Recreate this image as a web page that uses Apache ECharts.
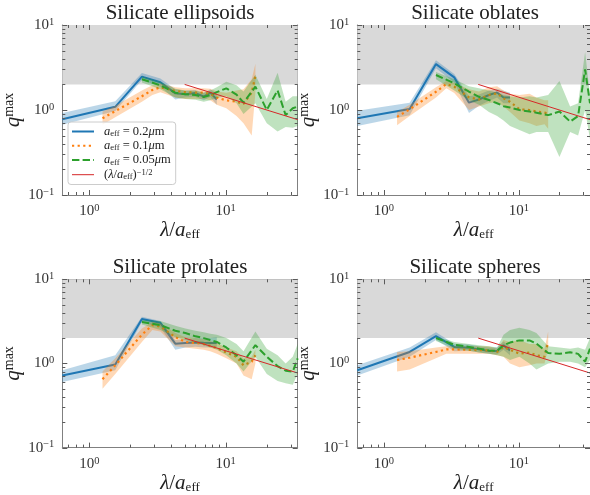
<!DOCTYPE html>
<html><head><meta charset="utf-8">
<script src="https://cdn.jsdelivr.net/npm/echarts@6/dist/echarts.min.js"></script>
<style>html,body{margin:0;padding:0;background:#fff}#c{width:590px;height:495px}</style>
</head><body><div id="c"></div>
<script>
// ---------- data ----------
const titles = ['Silicate ellipsoids', 'Silicate oblates', 'Silicate prolates', 'Silicate spheres'];
const seriesNames = ['a0.2', 'a0.1', 'a0.05', 'power'];
const xRange = [0.634, 33.7];
const yRange = [0.1, 10];
const grayBand = [2, 10];
const xMajor = [1, 10];
const xMinor = [0.7, 0.8, 0.9, 2, 3, 4, 5, 6, 7, 8, 9, 20, 30];
const yMajor = [0.1, 1, 10];
const yMinor = [0.2, 0.3, 0.4, 0.5, 0.6, 0.7, 0.8, 0.9, 2, 3, 4, 5, 6, 7, 8, 9];

const blueX = [0.634, 1.55, 2.43, 3.32, 4.27, 5.06, 6.0, 6.9, 7.7, 8.6];
const orangeX = [1.25, 1.55, 2.43, 2.9, 3.32, 4.27, 5.06, 6.0, 6.9, 7.7, 8.6, 10.1, 12, 13.5, 15.5, 16.5];
const greenX = [2.43, 3.32, 4.27, 5.06, 6.0, 6.9, 7.7, 8.6, 10.1, 12, 13.5, 16.5, 20, 24, 27.5, 31, 33.7];
const redX = [5.0, 33.7];
const redY = [2.0, 0.77];

// ellipsoids
const ellBlue    = [0.78, 1.09, 2.47, 2.12, 1.57, 1.53, 1.58, 1.44, 1.60, 1.33];
const ellBlueLo  = [0.67, 0.97, 2.25, 1.88, 1.33, 1.40, 1.42, 1.30, 1.42, 1.15];
const ellBlueHi  = [0.92, 1.27, 2.72, 2.35, 1.75, 1.68, 1.72, 1.60, 1.75, 1.55];
const ellOrange   = [0.80, 0.97, 1.45, 1.72, 1.85, 1.68, 1.62, 1.60, 1.60, 1.55, 1.40, 1.30, 1.25, 1.18, 1.60, 2.50];
const ellOrangeLo = [0.67, 0.82, 1.25, 1.50, 1.62, 1.40, 1.35, 1.35, 1.35, 1.30, 1.15, 1.05, 0.85, 0.70, 0.50, 1.60];
const ellOrangeHi = [0.96, 1.12, 1.70, 1.95, 2.05, 1.85, 1.80, 1.80, 1.80, 1.78, 1.65, 1.60, 1.70, 1.75, 2.30, 3.50];
const ellGreen   = [2.30, 1.95, 1.60, 1.53, 1.50, 1.42, 1.50, 1.62, 1.80, 1.52, 1.22, 1.88, 1.00, 1.70, 0.87, 1.05, 1.10];
const ellGreenLo = [2.10, 1.75, 1.40, 1.35, 1.32, 1.25, 1.30, 1.38, 1.45, 1.20, 0.90, 1.20, 0.70, 0.56, 0.63, 0.62, 0.65];
const ellGreenHi = [2.50, 2.15, 1.78, 1.70, 1.68, 1.60, 1.70, 1.85, 2.15, 1.95, 1.65, 2.60, 1.35, 2.75, 1.25, 1.45, 1.45];

// oblates
const oblBlue    = [0.80, 1.03, 3.47, 2.42, 1.22, 1.33, 1.50, 1.61, 1.40, 1.40];
const oblBlueLo  = [0.65, 0.87, 3.10, 2.10, 0.92, 1.12, 1.28, 1.40, 1.20, 1.20];
const oblBlueHi  = [0.98, 1.22, 3.85, 2.65, 1.45, 1.52, 1.70, 1.78, 1.68, 1.60];
const oblOrange   = [0.83, 1.02, 1.64, 2.02, 1.88, 1.41, 1.33, 1.50, 1.57, 1.37, 1.25, 1.02, 1.00, 0.96, 0.93, 0.91];
const oblOrangeLo = [0.66, 0.85, 1.40, 1.80, 1.58, 1.00, 1.10, 1.20, 1.25, 1.10, 0.95, 0.75, 0.70, 0.65, 0.68, 0.60];
const oblOrangeHi = [0.95, 1.15, 1.85, 2.20, 2.08, 1.75, 1.65, 1.85, 1.90, 1.70, 1.55, 1.50, 1.55, 1.40, 1.30, 1.30];
const oblGreen   = [2.58, 2.06, 1.64, 1.43, 1.31, 1.20, 1.11, 1.07, 1.00, 0.96, 0.93, 0.87, 0.96, 0.73, 0.85, 3.00, 1.20];
const oblGreenLo = [2.30, 1.70, 1.30, 1.15, 0.95, 0.85, 0.75, 0.65, 0.58, 0.52, 0.55, 0.55, 0.28, 0.55, 0.50, 1.00, 0.45];
const oblGreenHi = [2.80, 2.30, 1.90, 1.80, 1.70, 1.60, 1.50, 1.45, 1.40, 1.45, 1.40, 1.50, 2.20, 1.10, 1.20, 4.80, 1.50];

// prolates
const proBlue    = [0.72, 0.97, 3.38, 3.04, 1.72, 1.75, 1.78, 1.76, 1.75, 1.75];
const proBlueLo  = [0.60, 0.83, 3.10, 2.70, 1.45, 1.55, 1.58, 1.55, 1.55, 1.55];
const proBlueHi  = [0.83, 1.25, 3.60, 3.20, 1.90, 1.95, 2.00, 2.00, 2.00, 2.05];
const proOrange   = [0.65, 0.95, 2.20, 2.85, 2.75, 2.06, 1.80, 1.75, 1.70, 1.62, 1.52, 1.35, 1.20, 0.95, 1.05, 1.25];
const proOrangeLo = [0.50, 0.75, 1.80, 2.50, 2.40, 1.60, 1.55, 1.50, 1.45, 1.40, 1.30, 1.15, 1.00, 0.72, 0.65, 1.00];
const proOrangeHi = [0.80, 1.15, 2.60, 3.10, 3.00, 2.30, 2.05, 2.00, 1.95, 1.85, 1.75, 1.55, 1.40, 1.15, 1.20, 1.45];
const proGreen   = [3.10, 2.85, 2.45, 2.30, 2.10, 2.00, 1.90, 1.80, 1.55, 1.25, 1.05, 1.65, 1.20, 0.93, 0.82, 0.80, 1.15];
const proGreenLo = [2.90, 2.50, 2.05, 1.90, 1.75, 1.65, 1.55, 1.45, 1.25, 1.00, 0.80, 1.20, 0.75, 0.62, 0.58, 0.56, 0.75];
const proGreenHi = [3.30, 3.20, 2.80, 2.60, 2.45, 2.35, 2.25, 2.20, 2.00, 1.70, 1.40, 2.40, 1.50, 1.25, 1.00, 1.20, 1.70];

// spheres
const sphBlue    = [0.83, 1.37, 2.11, 1.57, 1.54, 1.47, 1.41, 1.41, 1.64, 1.43];
const sphBlueLo  = [0.72, 1.20, 1.90, 1.40, 1.42, 1.35, 1.30, 1.28, 1.45, 1.25];
const sphBlueHi  = [0.95, 1.55, 2.35, 1.72, 1.68, 1.60, 1.55, 1.55, 1.82, 1.60];
const sphOrange   = [1.10, 1.17, 1.37, 1.47, 1.47, 1.45, 1.44, 1.43, 1.37, 1.57, 1.45, 1.31, 1.35, 1.25, 1.20, 1.80];
const sphOrangeLo = [0.80, 0.85, 1.15, 1.30, 1.30, 1.30, 1.30, 1.30, 1.25, 1.20, 1.00, 0.90, 0.95, 1.00, 1.00, 1.50];
const sphOrangeHi = [1.37, 1.40, 1.55, 1.60, 1.60, 1.60, 1.60, 1.60, 1.50, 1.90, 1.80, 1.90, 1.70, 1.70, 1.50, 2.40];
const sphGreen   = [2.00, 1.67, 1.57, 1.50, 1.43, 1.41, 1.64, 1.77, 1.88, 1.88, 1.72, 1.33, 1.30, 1.36, 1.30, 1.05, 1.50];
const sphGreenLo = [1.85, 1.50, 1.42, 1.35, 1.30, 1.25, 1.20, 1.10, 1.20, 1.00, 0.85, 1.00, 1.05, 1.05, 1.00, 0.90, 1.10];
const sphGreenHi = [2.10, 1.80, 1.70, 1.65, 1.60, 1.55, 2.20, 2.50, 2.65, 2.50, 2.30, 1.60, 1.55, 1.50, 1.55, 1.45, 2.00];

const panels = [
  {blue: [ellBlue, ellBlueLo, ellBlueHi], orange: [ellOrange, ellOrangeLo, ellOrangeHi], green: [ellGreen, ellGreenLo, ellGreenHi]},
  {blue: [oblBlue, oblBlueLo, oblBlueHi], orange: [oblOrange, oblOrangeLo, oblOrangeHi], green: [oblGreen, oblGreenLo, oblGreenHi]},
  {blue: [proBlue, proBlueLo, proBlueHi], orange: [proOrange, proOrangeLo, proOrangeHi], green: [proGreen, proGreenLo, proGreenHi]},
  {blue: [sphBlue, sphBlueLo, sphBlueHi], orange: [sphOrange, sphOrangeLo, sphOrangeHi], green: [sphGreen, sphGreenLo, sphGreenHi]}
];

// ---------- style / layout ----------
const FONT = 'Liberation Serif';
const C = {blue: '#1f77b4', orange: '#ff7f0e', green: '#2ca02c', red: '#d62728'};
const SPINE = '#808080', TICK = '#5a5a5a', LABEL = '#333333';
const boxes = [[62.3, 25], [357.3, 25], [62.3, 279.3], [357.3, 279.3]];
const GW = 235.4, GH = 170;
const MAJOR_LEN = 5, MINOR_LEN = 3;

function powLabel(v) {
  const k = Math.round(Math.log10(v));
  if (Math.abs(v - Math.pow(10, k)) > 1e-6 * Math.pow(10, k)) return '';
  return '{b|10}{s|' + (k < 0 ? '\u2212' + (-k) : k) + '}';
}
const tickRich = {
  b: {fontFamily: FONT, fontSize: 15, lineHeight: 17, color: LABEL},
  s: {fontFamily: FONT, fontSize: 10.5, lineHeight: 7, verticalAlign: 'top', color: LABEL}
};
const nameRich = {
  i: {fontFamily: FONT, fontStyle: 'italic', fontSize: 21, lineHeight: 22, color: '#222'},
  t: {fontFamily: FONT, fontSize: 21, lineHeight: 22, color: '#222'},
  sub: {fontFamily: FONT, fontSize: 13, lineHeight: 8, verticalAlign: 'bottom', color: '#222'},
  sup: {fontFamily: FONT, fontSize: 14, lineHeight: 8, verticalAlign: 'top', color: '#222'}
};

const grid = [], xAxis = [], yAxis = [], series = [], title = [];

function axisSet(g, dim, pos, labels) {
  const o = {
    gridIndex: g, type: 'log', logBase: 10,
    min: dim === 'x' ? xRange[0] : yRange[0],
    max: dim === 'x' ? xRange[1] : yRange[1],
    position: pos,
    splitLine: {show: false},
    axisLine: {show: true, onZero: false, lineStyle: {color: SPINE, width: 1}},
    axisTick: {show: false},
    axisLabel: {show: !!labels, customValues: dim === 'x' ? xMajor : yMajor, formatter: powLabel, rich: tickRich, margin: 8},
    silent: true
  };
  if (labels && dim === 'x') {
    o.name = '{i|\u03bb}{t|/}{i|a}{sub|eff}';
    o.nameLocation = 'middle';
    o.nameGap = 11;
    o.nameTextStyle = {rich: nameRich};
  }
  if (labels && dim === 'y') {
    o.name = '{i|q}{sup|max}';
    o.nameLocation = 'middle';
    o.nameRotate = 90;
    o.nameGap = 32;
    o.nameTextStyle = {rich: nameRich};
  }
  return o;
}

// inward tick marks on all four sides, placed through the axes' own scales
function tickSeries(g) {
  return {
    type: 'custom', xAxisIndex: 2 * g, yAxisIndex: 2 * g, z: 20, silent: true,
    data: [[xRange[0], yRange[0]]],
    renderItem: function (params, api) {
      const kids = [];
      const ln = (x1, y1, x2, y2) => kids.push({type: 'line', shape: {x1, y1, x2, y2},
        style: {stroke: TICK, lineWidth: 1}});
      const xt = xMajor.map(v => [v, MAJOR_LEN]).concat(xMinor.map(v => [v, MINOR_LEN]));
      const yt = yMajor.map(v => [v, MAJOR_LEN]).concat(yMinor.map(v => [v, MINOR_LEN]));
      xt.forEach(([v, L]) => {
        const b = api.coord([v, yRange[0]]), t = api.coord([v, yRange[1]]);
        const x = Math.round(b[0]) + 0.5;
        ln(x, b[1], x, b[1] - L);
        ln(x, t[1], x, t[1] + L);
      });
      yt.forEach(([v, L]) => {
        const l = api.coord([xRange[0], v]), r = api.coord([xRange[1], v]);
        const y = Math.round(l[1]) + 0.5;
        ln(l[0], y, l[0] + L, y);
        ln(r[0], y, r[0] - L, y);
      });
      return {type: 'group', children: kids};
    }
  };
}

function bandSeries(g, xs, lo, hi, color, z) {
  return {
    type: 'custom', xAxisIndex: 2 * g, yAxisIndex: 2 * g, z: z, silent: true,
    data: xs.map((x, i) => [x, lo[i], hi[i]]),
    encode: {x: 0, y: [1, 2]},
    renderItem: function (params, api) {
      if (params.dataIndex !== 0) return null;
      const pts = [];
      for (let i = 0; i < xs.length; i++) pts.push(api.coord([xs[i], hi[i]]));
      for (let i = xs.length - 1; i >= 0; i--) pts.push(api.coord([xs[i], lo[i]]));
      return {type: 'polygon', shape: {points: pts}, style: {fill: color, opacity: 0.3}};
    }
  };
}
function lineSeries(g, name, xs, ys, color, width, type, z) {
  return {
    type: 'line', name: name, xAxisIndex: 2 * g, yAxisIndex: 2 * g, z: z,
    data: xs.map((x, i) => [x, ys[i]]),
    symbol: 'none', showSymbol: false, clip: true, silent: true,
    lineStyle: {color: color, width: width, type: type, cap: 'butt'},
    itemStyle: {color: color}
  };
}

for (let g = 0; g < 4; g++) {
  const [bx, by] = boxes[g];
  grid.push({left: bx, top: by, width: GW, height: GH, containLabel: false});
  xAxis.push(axisSet(g, 'x', 'bottom', true));
  xAxis.push(axisSet(g, 'x', 'top', false));
  yAxis.push(axisSet(g, 'y', 'left', true));
  yAxis.push(axisSet(g, 'y', 'right', false));

  title.push({
    text: titles[g], left: bx + GW / 2, top: by - 22, textAlign: 'center', padding: 0,
    textStyle: {fontFamily: FONT, fontSize: 21, fontWeight: 'normal', color: '#222'}
  });

  const p = panels[g];
  series.push({
    type: 'line', xAxisIndex: 2 * g, yAxisIndex: 2 * g, data: [], z: 0, silent: true,
    markArea: {silent: true, itemStyle: {color: '#d9d9d9'},
      data: [[{coord: [xRange[0], grayBand[0]]}, {coord: [xRange[1], grayBand[1]]}]]}
  });
  series.push(bandSeries(g, blueX, p.blue[1], p.blue[2], C.blue, 1));
  series.push(lineSeries(g, seriesNames[0], blueX, p.blue[0], C.blue, 2, 'solid', 2));
  series.push(bandSeries(g, orangeX, p.orange[1], p.orange[2], C.orange, 3));
  series.push(lineSeries(g, seriesNames[1], orangeX, p.orange[0], C.orange, 2.2, [2.2, 3.4], 4));
  series.push(bandSeries(g, greenX, p.green[1], p.green[2], C.green, 5));
  series.push(lineSeries(g, seriesNames[2], greenX, p.green[0], C.green, 2, [7.4, 3.2], 6));
  series.push(lineSeries(g, seriesNames[3], redX, redY, C.red, 1, 'solid', 7));
  series.push(tickSeries(g));
}

const legendLabels = {
  'a0.2': '{i|a}{sub|eff}{t| = 0.2}{i|\u03bc}{t|m}',
  'a0.1': '{i|a}{sub|eff}{t| = 0.1}{i|\u03bc}{t|m}',
  'a0.05': '{i|a}{sub|eff}{t| = 0.05}{i|\u03bc}{t|m}',
  'power': '{t|(}{i|\u03bb}{t|/}{i|a}{sub|eff}{t|)}{sup|\u22121/2}'
};

const chart = echarts.init(document.getElementById('c'), null, {renderer: 'canvas'});
chart.setOption({
  animation: false,
  backgroundColor: '#fff',
  title: title,
  grid: grid, xAxis: xAxis, yAxis: yAxis,
  legend: {
    data: [{name: 'a0.2'}, {name: 'a0.1'}, {name: 'a0.05'}, {name: 'power', lineStyle: {width: 1}}],
    left: 68, top: 122, orient: 'vertical',
    padding: [3, 5, 3, 3], itemGap: 1.0, itemWidth: 22, itemHeight: 10,
    backgroundColor: 'rgba(255,255,255,0.8)', borderColor: '#cccccc', borderWidth: 1, borderRadius: 3,
    selectedMode: false,
    itemStyle: {opacity: 0},
    formatter: n => legendLabels[n],
    textStyle: {
      padding: [0, 0, 0, 5],
      rich: {
        i: {fontFamily: FONT, fontStyle: 'italic', fontSize: 12.5, lineHeight: 13.6, color: '#222'},
        t: {fontFamily: FONT, fontSize: 12.5, lineHeight: 13.6, color: '#222'},
        sub: {fontFamily: FONT, fontSize: 8.5, lineHeight: 6, verticalAlign: 'bottom', color: '#222'},
        sup: {fontFamily: FONT, fontSize: 8.5, lineHeight: 6, verticalAlign: 'top', color: '#222'}
      }
    }
  },
  series: series
});
</script></body></html>
